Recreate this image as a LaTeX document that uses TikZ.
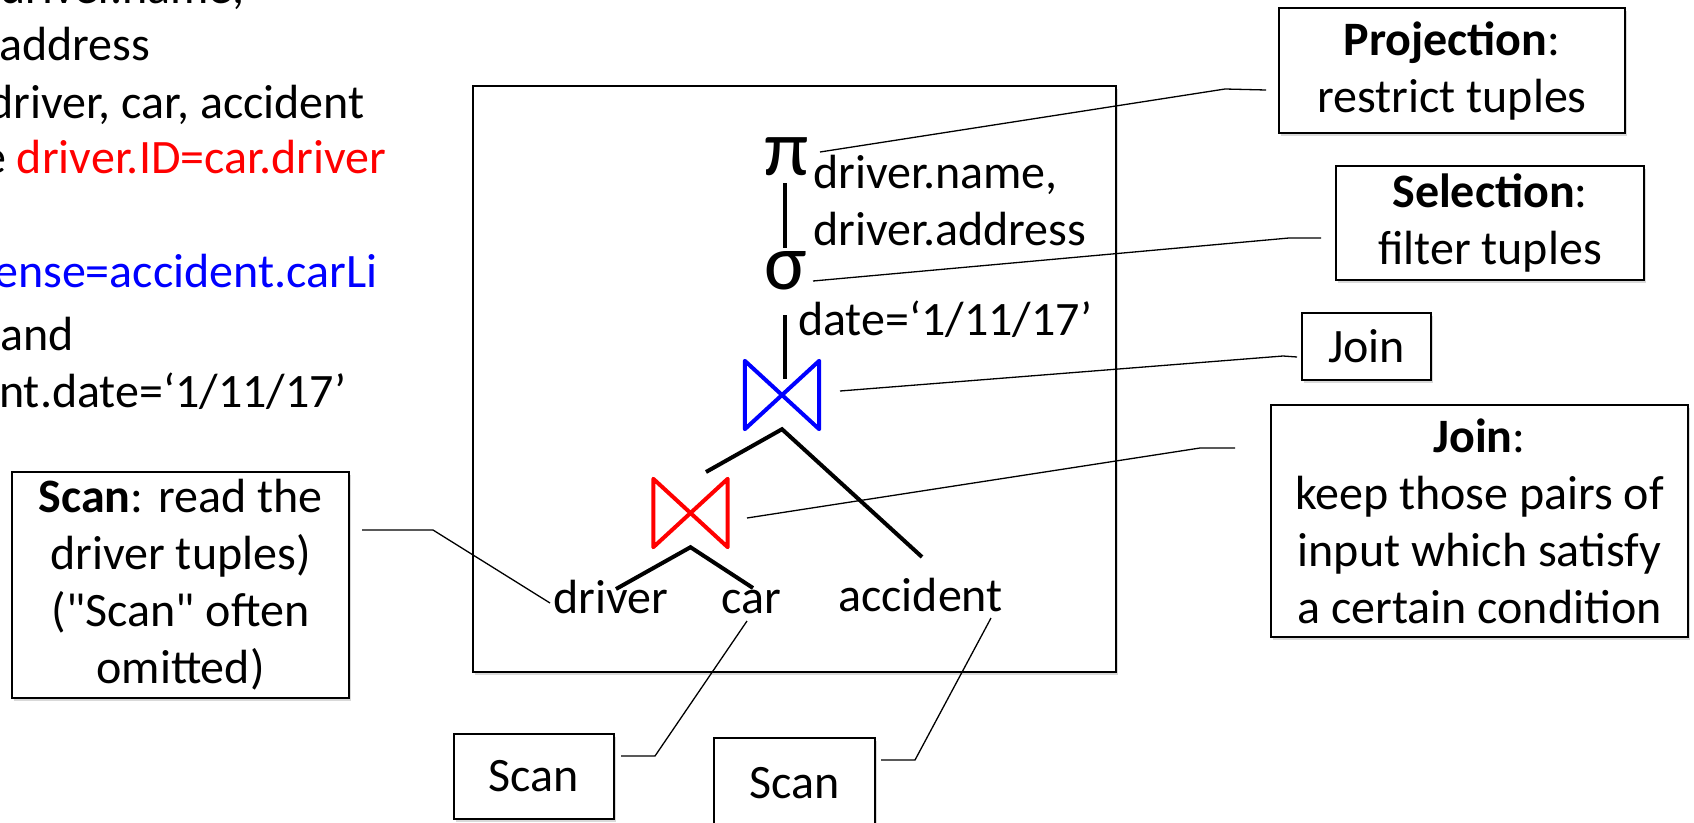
\documentclass[tikz,border=0pt]{standalone}
\usepackage{fontspec}
\setmainfont{Carlito}
% a second Carlito family without TeX ligatures keeps straight double quotes
\newfontfamily\straightquotes{Carlito}
\usetikzlibrary{shadows}
\begin{document}
\begin{tikzpicture}[x=1pt,y=-1pt,
  txt/.style={font=\fontsize{48}{57}\selectfont, inner sep=0pt},
  opsym/.style={font=\fontsize{80}{80}\selectfont, inner sep=0pt, anchor=base west},
  boxshadow/.style={drop shadow={shadow xshift=2pt, shadow yshift=-2.5pt, opacity=0.3}},
  callout/.style={draw, line width=1.8pt, fill=white, align=center,
    font=\fontsize{48}{57}\selectfont, inner sep=0pt, boxshadow},
  lead/.style={line width=1.3pt, line join=round},
  treeedge/.style={line width=4pt},
  bowtie/.style={line width=4pt, line join=round, line cap=round},
  joinsym/.style={minimum width=74pt, minimum height=68pt, inner sep=0pt},
]
\useasboundingbox (0,0) rectangle (1694,822);

% SQL query (left column)
\node[txt, anchor=base east] (q1) at (245,3) {driver.name,};
\node[txt, anchor=base west] (q2) at (-1,60) {address};
\node[txt, anchor=base west] (q3) at (-12,118) {driver, car, accident};
\node[txt, anchor=base west] (q4) at (-18,173) {e \textcolor{red}{driver.ID=car.driver}};
\node[txt, anchor=base west, text=blue] (q6) at (-6,287) {ense=accident.carLi};
\node[txt, anchor=base west] (q7) at (0,350) {and};
\node[txt, anchor=base west] (q8) at (-1,407) {nt.date=‘1/11/17’};

% plan frame
\node[draw, line width=1.5pt, fill=white, minimum width=643pt, minimum height=586pt,
  inner sep=0pt, boxshadow] (plan) at (794.5,379) {};

% operators
\node[opsym] (pi) at (764,175) {π};
\node[txt, anchor=base west, align=left] (projattr) at (813,245) {driver.name,\\driver.address};
\node[opsym] (sigma) at (764,289) {σ};
\node[txt, anchor=base west] (cond) at (798,335) {date=‘1/11/17’};
\node[joinsym] (jtop) at (782,395) {};
\node[joinsym] (jbot) at (690.5,513) {};
\draw[bowtie, blue] (jtop.north west) -- (jtop.south east) -- (jtop.north east) -- (jtop.south west) -- cycle;
\draw[bowtie, red] (jbot.north west) -- (jbot.south east) -- (jbot.north east) -- (jbot.south west) -- cycle;

% relations
\node[txt, anchor=base west] (driver) at (553,613) {driver};
\node[txt, anchor=base west] (car) at (721,613) {car};
\node[txt, anchor=base west] (accident) at (838,611) {accident};

% tree edges
\coordinate (pi-foot) at (785,183);
\coordinate (sigma-head) at (785,248);
\coordinate (sigma-foot) at (785,315);
\coordinate (jtop-head) at (785,379);
\coordinate (jbot-head) at (706,472);
\coordinate (accident-head) at (922,557);
\coordinate (driver-head) at (616,589);
\coordinate (car-head) at (753,588);
\draw[treeedge] (pi-foot) -- (sigma-head);
\draw[treeedge] (sigma-foot) -- (jtop-head);
\draw[treeedge] (jbot-head) -- (jtop.south) -- (accident-head);
\draw[treeedge] (driver-head) -- (jbot.south) -- (car-head);

% callout boxes
\node[callout, minimum width=346pt, minimum height=125pt] (projbox) at (1452,70.5)
  {\textbf{Projection}:\\restrict tuples};
\node[callout, minimum width=308pt, minimum height=114pt] (selbox) at (1490,223)
  {\textbf{Selection}:\\filter tuples};
\node[callout, minimum width=129pt, minimum height=67pt] (joinbox) at (1366.5,346.5)
  {Join};
\node[callout, minimum width=417pt, minimum height=232pt] (joindef) at (1479.5,521)
  {\textbf{Join}:\\keep those pairs of\\input which satisfy\\a certain condition};
\node[callout, minimum width=337pt, minimum height=226pt] (scandef) at (180.5,585)
  {\textbf{Scan}: read the\\driver tuples)\\{\straightquotes ("Scan" often}\\omitted)};
\node[callout, minimum width=160pt, minimum height=85pt] (scancar) at (534,776.5) {Scan};
\node[callout, minimum width=161pt, minimum height=90pt] (scanacc) at (794.5,783) {Scan};

% leader lines
\coordinate (pi-lead) at (820,152);
\coordinate (pi-kink) at (1225,89);
\coordinate (pi-end) at (1266,90);
\draw[lead] (pi-lead) -- (pi-kink) -- (pi-end);
\coordinate (sigma-lead) at (813,281);
\coordinate (sigma-kink) at (1289,238);
\coordinate (sigma-end) at (1321,238);
\draw[lead] (sigma-lead) -- (sigma-kink) -- (sigma-end);
\coordinate (jtop-lead) at (840,391);
\coordinate (jtop-kink) at (1283,356);
\coordinate (jtop-end) at (1297,357);
\draw[lead] (jtop-lead) -- (jtop-kink) -- (jtop-end);
\coordinate (jbot-lead) at (747,518);
\coordinate (jbot-kink) at (1200,448);
\coordinate (jbot-end) at (1235,448);
\draw[lead] (jbot-lead) -- (jbot-kink) -- (jbot-end);
\coordinate (scandef-end) at (362,530);
\coordinate (scandef-kink) at (433,530);
\coordinate (driver-lead) at (550,603);
\draw[lead] (scandef-end) -- (scandef-kink) -- (driver-lead);
\coordinate (scancar-end) at (621,756);
\coordinate (scancar-kink) at (655,756);
\coordinate (car-lead) at (747,621);
\draw[lead] (scancar-end) -- (scancar-kink) -- (car-lead);
\coordinate (scanacc-end) at (881,760);
\coordinate (scanacc-kink) at (915,760);
\coordinate (accident-lead) at (991,618);
\draw[lead] (scanacc-end) -- (scanacc-kink) -- (accident-lead);
\end{tikzpicture}
\end{document}
